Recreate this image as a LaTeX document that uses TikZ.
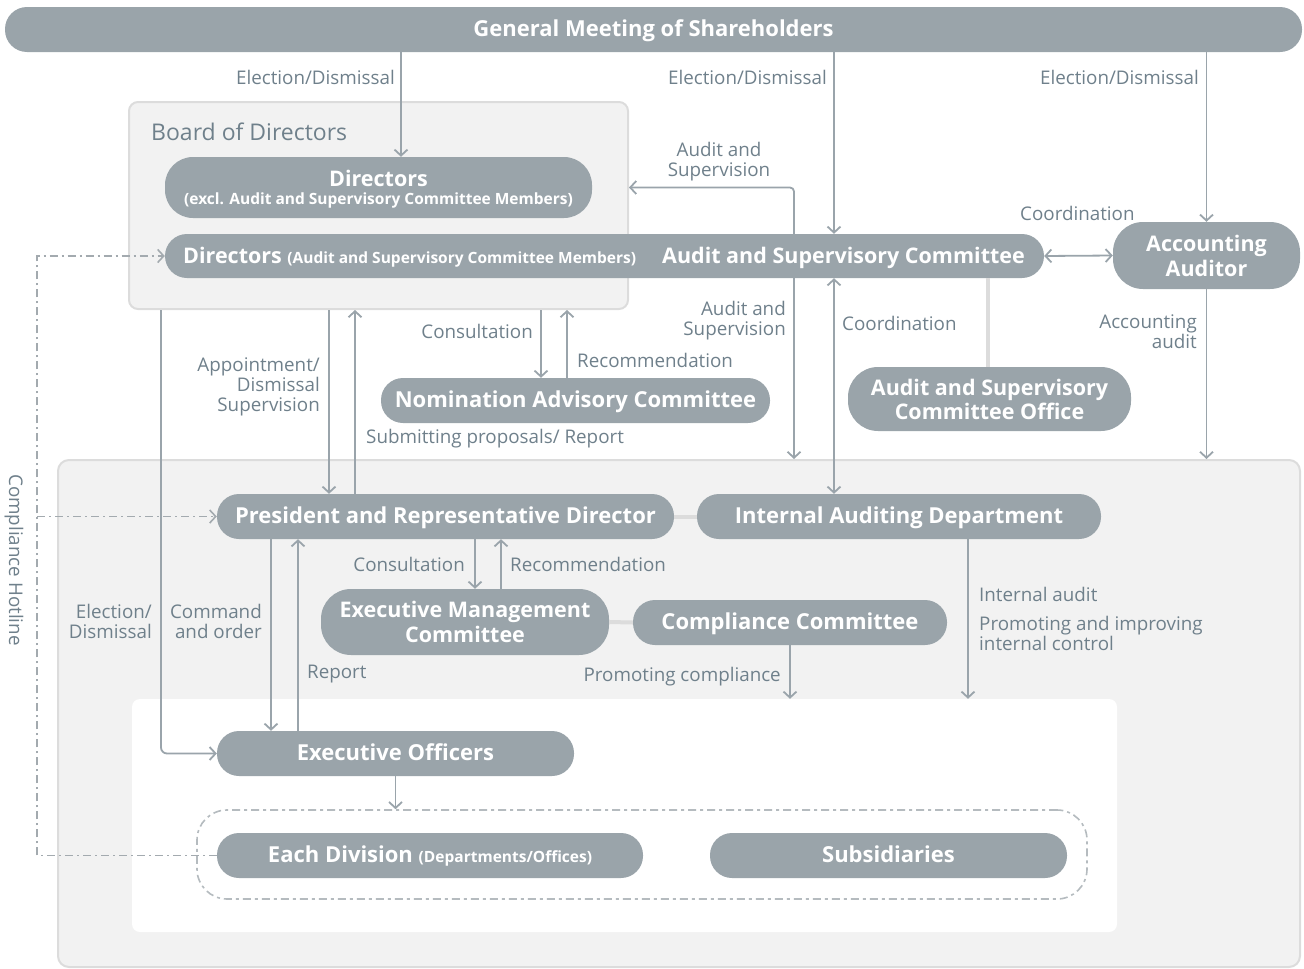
\documentclass[tikz,border=0pt]{standalone}
\usepackage{fontspec}
\setmainfont{Open Sans}
\usetikzlibrary{arrows.meta}
\definecolor{nodefill}{HTML}{9AA4AA}
\definecolor{lblcol}{HTML}{6F808B}
\definecolor{linecol}{HTML}{9AA4AB}
\definecolor{boxfill}{HTML}{F2F2F2}
\definecolor{boxdraw}{HTML}{DCDCDC}
\definecolor{hotcol}{HTML}{A3AAAF}
\tikzset{
  org/.style={fill=nodefill, text=white, font=\bfseries\fontsize{22}{24}\selectfont, inner sep=0pt, align=center, rounded corners=22pt},
  one/.style={text height=19pt, text depth=5pt},
  lbl/.style={text=lblcol, font=\fontsize{18.8}{20}\selectfont, inner sep=0pt},
  arr/.style={draw=linecol, line width=1.8pt, -{Straight Barb[length=6pt,width=13pt]}},
  darr/.style={draw=linecol, line width=1.8pt, {Straight Barb[length=6pt,width=13pt]}-{Straight Barb[length=6pt,width=13pt]}},
  tie/.style={draw=boxdraw, line width=4pt},
  area/.style={fill=boxfill, draw=boxdraw, line width=2pt, rounded corners=9pt, inner sep=0pt},
  hotline/.style={draw=hotcol, line width=1.6pt, dash pattern=on 8pt off 4pt on 2pt off 4pt},
  hotarr/.style={hotline, -{Straight Barb[length=6pt,width=13pt]}},
  grp/.style={draw=hotcol!80, line width=1.6pt, dash pattern=on 8pt off 4pt on 3pt off 4pt, rounded corners=30pt, inner sep=0pt}
}
\newcommand{\smallorg}{\fontsize{15.5}{17}\selectfont}
\begin{document}
\begin{tikzpicture}[x=1pt,y=-1pt]
\useasboundingbox (0,0) rectangle (1304,969);
% areas
\node[area, minimum width=499, minimum height=207] (board) at (378.5,205.5) {};
\node[area, minimum width=1242, minimum height=507, rounded corners=11pt] (low) at (679,713.5) {};
\node[fill=white, rounded corners=8pt, minimum width=985, minimum height=233, inner sep=0pt] (inner) at (624.5,815.5) {};
\node[grp, minimum width=890, minimum height=89] (grpbox) at (642,854.5) {};
\node[lbl, anchor=west, font=\fontsize{23}{25}\selectfont] (boardtitle) at (151,132) {Board of Directors};

% x positions
\coordinate (x37) at (37,0);
\coordinate (x161) at (161,0);
\coordinate (x271) at (271,0);
\coordinate (x298) at (298,0);
\coordinate (x329) at (329,0);
\coordinate (x355) at (355,0);
\coordinate (x401) at (401,0);
\coordinate (x475) at (475,0);
\coordinate (x501) at (501,0);
\coordinate (x541) at (541,0);
\coordinate (x567) at (567,0);
\coordinate (x794) at (794,0);
\coordinate (x834) at (834,0);
\coordinate (x968) at (968,0);
\coordinate (x988) at (988,0);

% nodes
\node[org, one, minimum width=1297, minimum height=45] (gms) at (653.5,29.5) {General Meeting of Shareholders};
\node[org, minimum width=427, minimum height=61, rounded corners=28pt, font=\bfseries\fontsize{21.5}{21}\selectfont] (dir1) at (378.5,187.5) {\rule{0pt}{20pt}Directors\\[-3pt]{\smallorg(excl. Audit and Supervisory Committee Members)}};
\node[org, minimum width=879, minimum height=44] (dirbar) at (604.5,256) {};
\node[one, text=white, font=\bfseries\fontsize{21.5}{23}\selectfont, inner sep=0pt, anchor=west] (dirtxt) at (183,256) {Directors {\smallorg(Audit and Supervisory Committee Members)}};
\node[one, text=white, font=\bfseries\fontsize{21.5}{23}\selectfont, inner sep=0pt, anchor=west] (asctxt) at (662,256) {Audit and Supervisory Committee};
\node[org, minimum width=187, minimum height=67, rounded corners=30pt, font=\bfseries\fontsize{21.5}{25}\selectfont] (aa) at (1206.5,255.5) {Accounting\\Auditor};
\node[org, minimum width=283, minimum height=64, rounded corners=30pt, font=\bfseries\fontsize{21.5}{24}\selectfont] (office) at (989.5,399) {Audit and Supervisory\\Committee Office};
\node[org, one, minimum width=389, minimum height=45] (nom) at (575.5,400.5) {Nomination Advisory Committee};
\node[org, one, minimum width=457, minimum height=45] (pres) at (445.5,516.5) {President and Representative Director};
\node[org, one, minimum width=404, minimum height=45] (iad) at (899,516.5) {Internal Auditing Department};
\node[org, minimum width=288, minimum height=66, rounded corners=30pt, font=\bfseries\fontsize{21.5}{25}\selectfont] (emc) at (465,622) {Executive Management\\Committee};
\node[org, one, minimum width=314, minimum height=45] (cc) at (790,622.5) {Compliance Committee};
\node[org, one, minimum width=357, minimum height=45] (eo) at (395.5,753.5) {Executive Officers};
\node[org, one, minimum width=426, minimum height=45] (div) at (430,855.5) {Each Division {\smallorg(Departments/Offices)}};
\node[org, one, minimum width=357, minimum height=45] (subs) at (888.5,855.5) {Subsidiaries};

% ties
\draw[tie] (pres.east) -- (iad.west);
\draw[tie] (emc.east) -- (cc.west);
\draw[tie] (dirbar.south -| x988) -- (office.north -| x988);

% connectors from GMS
\draw[arr] (gms.south -| x401) -- (dir1.north -| x401);
\draw[arr] (gms.south -| x834) -- (dirbar.north -| x834);
\draw[arr] (gms.south -| aa) -- (aa.north);
\node[lbl, anchor=east] (l1) at (395,77) {Election/Dismissal};
\node[lbl, anchor=east] (l2) at (827,77) {Election/Dismissal};
\node[lbl, anchor=east] (l3) at (1199,77) {Election/Dismissal};

% ASC connectors
\draw[arr, rounded corners=4pt] (dirbar.north -| x794) |- (board.east |- dir1.center);
\node[lbl, align=center] (l4) at (719,162) {Audit and\\Supervision};
\draw[darr] (dirbar.east) -- (aa.west);
\node[lbl, anchor=west] (l5) at (1020,213) {Coordination};
\draw[arr] (dirbar.south -| x794) -- (low.north -| x794);
\node[lbl, align=right, anchor=east] (l6) at (786,321) {Audit and\\Supervision};
\draw[darr] (dirbar.south -| x834) -- (iad.north -| x834);
\node[lbl, anchor=west] (l7) at (842,323) {Coordination};
\draw[arr] (aa.south) -- (low.north -| aa);
\node[lbl, align=right, anchor=east] (l8) at (1197,332) {Accounting\\audit};

% board to below
\draw[arr, rounded corners=6pt] (board.south -| x161) |- (eo.west);
\node[lbl, align=right, anchor=east] (l9) at (152,621) {Election/\\Dismissal};
\draw[arr] (board.south -| x329) -- (pres.north -| x329);
\draw[arr] (pres.north -| x355) -- (board.south -| x355);
\node[lbl, align=right, anchor=east] (l10) at (320,387) {Appointment/\\Dismissal\\Supervision};
\node[lbl, anchor=west] (l11) at (366,439) {Submitting proposals/ Report};
\draw[arr] (board.south -| x541) -- (nom.north -| x541);
\draw[arr] (nom.north -| x567) -- (board.south -| x567);
\node[lbl, anchor=east] (l12) at (533,331) {Consultation};
\node[lbl, anchor=west] (l13) at (577,360) {Recommendation};

% president to below
\draw[arr] (pres.south -| x271) -- (eo.north -| x271);
\draw[arr] (eo.north -| x298) -- (pres.south -| x298);
\node[lbl, align=right, anchor=east] (l14) at (262,621) {Command\\and order};
\node[lbl, anchor=west] (l15) at (307,674) {Report};
\draw[arr] (pres.south -| x475) -- (emc.north -| x475);
\draw[arr] (emc.north -| x501) -- (pres.south -| x501);
\node[lbl, anchor=east] (l16) at (465,564) {Consultation};
\node[lbl, anchor=west] (l17) at (510,564) {Recommendation};

% compliance & internal audit
\draw[arr] (cc.south) -- (inner.north -| cc);
\node[lbl, anchor=east] (l18) at (781,677) {Promoting compliance};
\draw[arr] (iad.south -| x968) -- (inner.north -| x968);
\node[lbl, anchor=west] (l19) at (979,594) {Internal audit};
\node[lbl, anchor=west, align=left] (l20) at (979,633) {Promoting and improving\\internal control};

% executive officers to group
\draw[arr] (eo.south) -- (grpbox.north -| eo);

% hotline
\draw[hotarr] (div.west) -- (x37 |- div.west) -- (x37 |- dirbar.west) -- (dirbar.west);
\draw[hotarr] (x37 |- pres.west) -- (pres.west);
\node[lbl, rotate=-90] (hot) at (14,560) {Compliance Hotline};
\end{tikzpicture}
\end{document}
